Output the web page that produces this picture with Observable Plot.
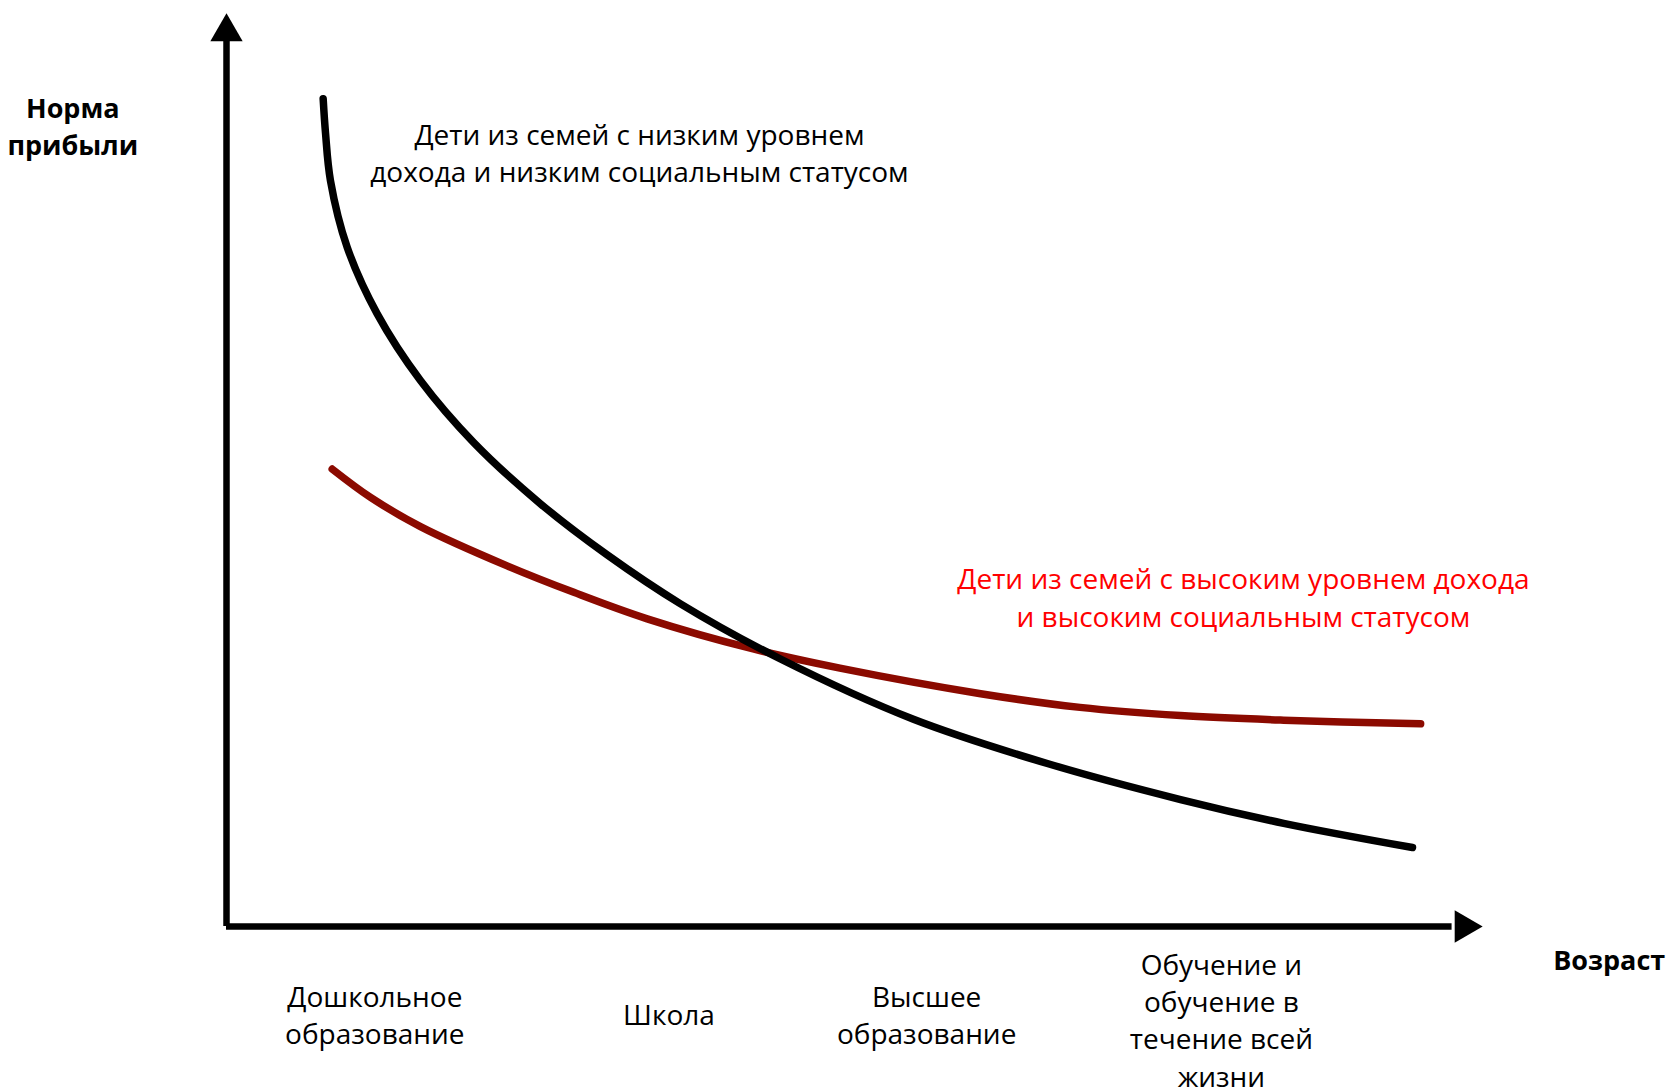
<!DOCTYPE html>
<html>
<head>
<meta charset="utf-8">
<script src="https://cdn.jsdelivr.net/npm/d3@7"></script>
<script src="https://cdn.jsdelivr.net/npm/@observablehq/plot@0.6"></script>
<style>
  html, body { margin: 0; padding: 0; background: #fff; }
  #chart svg { display: block; }
</style>
</head>
<body>
<div id="chart"></div>
<script>
// Low-income curve (black)
const lowX = [7.69, 7.88, 8.27, 9.60, 11.99, 15.43, 19.67, 24.98, 30.29, 36.12, 44.07, 54.65, 65.3, 75.9, 84.1, 94.35];
const lowY = [90.66, 86.86, 81.7, 74.4, 67.1, 59.8, 53.0, 46.3, 40.7, 35.34, 29.3, 22.7, 17.85, 13.9, 11.3, 8.65];
// High-income curve (dark red)
const highX = [8.41, 11.46, 15.43, 22.33, 27.63, 33.47, 41.9, 48.8, 60.0, 67.9, 75.9, 84.1, 95.0];
const highY = [50.1, 47.0, 43.8, 39.5, 36.6, 33.7, 30.4, 28.3, 25.5, 24.0, 23.1, 22.6, 22.2];

// Stage labels on the x axis
const stageLabels = ["Дошкольное\nобразование", "Школа", "Высшее\nобразование", "Обучение и\nобучение в\nтечение всей\nжизни"];
const stageX = [11.8, 35.2, 55.7, 79.15];
const stageY = [-9.52, -9.5, -9.52, -10.1];

const yAxisTitle = "Норма\nприбыли";
const xAxisTitle = "Возраст";
const lowLabel = "Дети из семей с низким уровнем\nдохода и низким социальным статусом";
const highLabel = "Дети из семей с высоким уровнем дохода\nи высоким социальным статусом";

const low = lowX.map((x, i) => ({x, y: lowY[i]}));
const high = highX.map((x, i) => ({x, y: highY[i]}));
const stages = stageLabels.map((t, i) => ({t, x: stageX[i], y: stageY[i]}));

const font = "'Open Sans', 'Noto Sans', sans-serif";
const fs = 28;
const fsBold = 27;
const lh = 37.4 / fs;

const chart = Plot.plot({
  width: 1669,
  height: 1091,
  marginLeft: 226,
  marginRight: 186,
  marginTop: 13,
  marginBottom: 165,
  x: {domain: [0, 100], axis: null},
  y: {domain: [0, 100], axis: null},
  style: {background: "#fff", fontFamily: font},
  marks: [
    // axes
    Plot.ruleX([0], {y1: 0, y2: 97, stroke: "#000", strokeWidth: 6.5}),
    Plot.ruleY([0], {x1: 0, x2: 97.5, stroke: "#000", strokeWidth: 6.5}),
    Plot.dot([{x: 0, y: 100}], {x: "x", y: "y", symbol: "triangle", r: 12, fill: "#000", stroke: "none", dy: 18.5}),
    Plot.dot([{x: 100, y: 0}], {x: "x", y: "y", symbol: "triangle", r: 12, fill: "#000", stroke: "none", rotate: 90, dx: -19.5}),
    // curves
    Plot.line(high, {x: "x", y: "y", stroke: "#8B0A00", strokeWidth: 7.5, curve: "catmull-rom"}),
    Plot.line(low, {x: "x", y: "y", stroke: "#000", strokeWidth: 7.5, curve: "catmull-rom"}),
    // labels
    Plot.text([yAxisTitle], {x: -12.23, y: 87.85, text: d => d, fontSize: fsBold, fontWeight: "bold", fill: "#000", textAnchor: "middle", lineAnchor: "middle", lineHeight: 37.4 / fsBold}),
    Plot.text([xAxisTitle], {x: 110.0, y: -3.85, text: d => d, fontSize: fsBold, fontWeight: "bold", fill: "#000", textAnchor: "middle", lineAnchor: "middle"}),
    Plot.text([lowLabel], {x: 32.85, y: 84.87, text: d => d, fontSize: fs, fill: "#000", textAnchor: "middle", lineAnchor: "middle", lineHeight: lh}),
    Plot.text([highLabel], {x: 80.9, y: 36.18, text: d => d, fontSize: fs, fill: "#FF0000", textAnchor: "middle", lineAnchor: "middle", lineHeight: lh}),
    Plot.text(stages, {x: "x", y: "y", text: "t", fontSize: fs, fill: "#000", textAnchor: "middle", lineAnchor: "middle", lineHeight: lh})
  ]
});
document.getElementById("chart").appendChild(chart);
</script>
</body>
</html>
